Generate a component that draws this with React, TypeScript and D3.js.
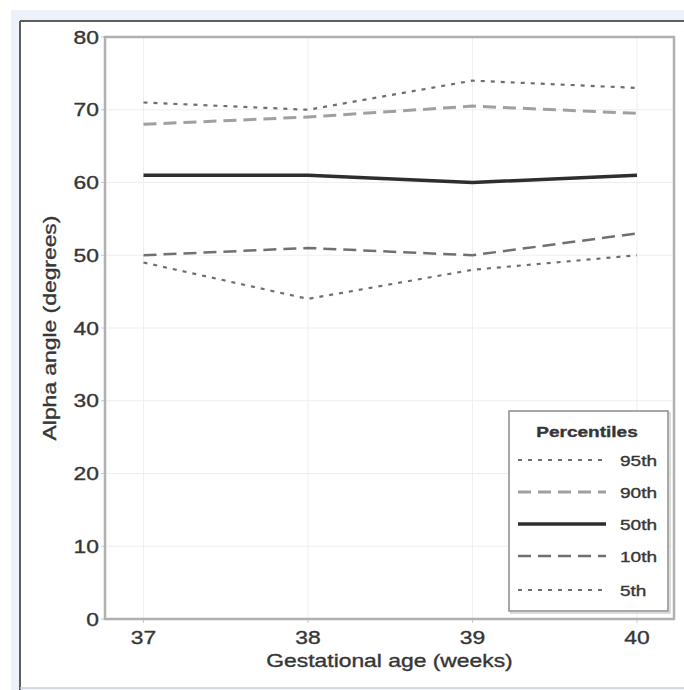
import React from 'react';
import * as d3 from 'd3';

// gestational weeks and percentile curves (alpha angle, degrees)
const weeks = [37, 38, 39, 40];
const p95 = [71, 70, 74, 73];
const p90 = [68, 69, 70.5, 69.5];
const p50 = [61, 61, 60, 61];
const p10 = [50, 51, 50, 53];
const p5 = [49, 44, 48, 50];
const yTicks = [0, 10, 20, 30, 40, 50, 60, 70, 80];
const legendLabels = ['95th', '90th', '50th', '10th', '5th'];

const W = 684;
const H = 690;
const margin = { left: 105, right: 10, top: 37, bottom: 71 };
const SX = 1.27; // the source font is drawn wide
const FONT = '"Liberation Sans", Arial, sans-serif';
const INK = '#363636';

const styles = [
    { stroke: '#6e6e6e', width: 2.2, dash: '4,6' },
    { stroke: '#a0a0a0', width: 3, dash: '13,7' },
    { stroke: '#2e2e2e', width: 3.5, dash: null },
    { stroke: '#707070', width: 2.5, dash: '13,7' },
    { stroke: '#6e6e6e', width: 2.2, dash: '4,6' },
];

const Txt = ({ x, y, anchor = 'middle', size = 18, weight = 'normal', rotate = 0, children }: any) => (
    <text
        transform={`translate(${x},${y})${rotate ? ` rotate(${rotate})` : ''} scale(${SX},1)`}
        textAnchor={anchor}
        fontSize={size}
        fontWeight={weight}
        fontFamily={FONT}
        fill={INK}
        stroke={INK}
        strokeWidth={0.35}
    >{children}</text>
);

const App = () => {
    const series = [p95, p90, p50, p10, p5];

    const xScale = d3.scaleLinear()
        .domain([36.766, 40.225])
        .range([margin.left, W - margin.right]);

    const yScale = d3.scaleLinear()
        .domain([0, 80])
        .range([H - margin.bottom, margin.top]);

    const line = d3.line<number>()
        .x((d, i) => xScale(weeks[i]))
        .y((d) => yScale(d))
        .curve(d3.curveLinear);

    const x0 = margin.left;
    const x1 = W - margin.right;
    const y0 = H - margin.bottom;
    const y1 = margin.top;

    // legend box
    const lg = { x: 509, y: 411, w: 159, h: 200 };
    const rowY = [460, 492, 524, 556, 590];

    return (
        <div style={{ position: 'absolute', left: 0, top: 0 }}>
            <svg width={W} height={H} style={{ display: 'block', background: '#fff' }}>
                {/* page frame */}
                <rect x={11} y={10} width={W} height={H} fill="#edf1f9" />
                <rect x={20} y={21} width={W} height={667} fill="#fff" />
                <line x1={20} x2={W} y1={21} y2={21} stroke="#5e5e5e" strokeWidth={2} />
                <line x1={20} x2={20} y1={21} y2={H} stroke="#5e5e5e" strokeWidth={2} />
                <line x1={20} x2={W} y1={688} y2={688} stroke="#cfcfcf" strokeWidth={1.5} />

                {/* grid */}
                <g stroke="#efefef" strokeWidth={1}>
                    {yTicks.map(t => (
                        <line key={'gy' + t} x1={x0} x2={x1} y1={yScale(t)} y2={yScale(t)} />
                    ))}
                    {weeks.map(w => (
                        <line key={'gx' + w} x1={xScale(w)} x2={xScale(w)} y1={y1} y2={y0} />
                    ))}
                </g>

                {/* ticks */}
                <g stroke="#c8c8c8" strokeWidth={1}>
                    {yTicks.map(t => (
                        <line key={'ty' + t} x1={x0 - 4} x2={x0} y1={yScale(t)} y2={yScale(t)} />
                    ))}
                    {weeks.map(w => (
                        <line key={'tx' + w} x1={xScale(w)} x2={xScale(w)} y1={y0} y2={y0 + 4} />
                    ))}
                </g>

                {/* plot border */}
                <rect x={x0} y={y1} width={x1 - x0} height={y0 - y1} fill="none" stroke="#b0b0b0" strokeWidth={2.5} />

                {/* percentile lines */}
                {series.map((s, i) => (
                    <path
                        key={'s' + i}
                        d={line(s) || ''}
                        fill="none"
                        stroke={styles[i].stroke}
                        strokeWidth={styles[i].width}
                        strokeDasharray={styles[i].dash || undefined}
                    />
                ))}

                {/* tick labels */}
                {yTicks.map(t => (
                    <Txt key={'ly' + t} x={99} y={yScale(t) + 6.5} anchor="end">{t}</Txt>
                ))}
                {weeks.map(w => (
                    <Txt key={'lx' + w} x={xScale(w)} y={644} >{w}</Txt>
                ))}

                {/* axis titles */}
                <Txt x={(x0 + x1) / 2} y={667}>Gestational age (weeks)</Txt>
                <Txt x={56} y={(y0 + y1) / 2} rotate={-90}>Alpha angle (degrees)</Txt>

                {/* legend */}
                <rect x={lg.x + 2} y={lg.y + 2} width={lg.w} height={lg.h} fill="none" stroke="#d0d0d0" strokeWidth={1.5} />
                <rect x={lg.x} y={lg.y} width={lg.w} height={lg.h} fill="#fff" stroke="#8c8c8c" strokeWidth={1.5} />
                <Txt x={lg.x + 78} y={437} size={15} weight="bold">Percentiles</Txt>
                {legendLabels.map((lab, i) => (
                    <g key={'lg' + i}>
                        <line
                            x1={518} x2={606} y1={rowY[i]} y2={rowY[i]}
                            stroke={styles[i].stroke}
                            strokeWidth={styles[i].width}
                            strokeDasharray={styles[i].dash || undefined}
                        />
                        <Txt x={620} y={rowY[i] + 5.5} anchor="start" size={15}>{lab}</Txt>
                    </g>
                ))}
            </svg>
        </div>
    );
};

export default App;
